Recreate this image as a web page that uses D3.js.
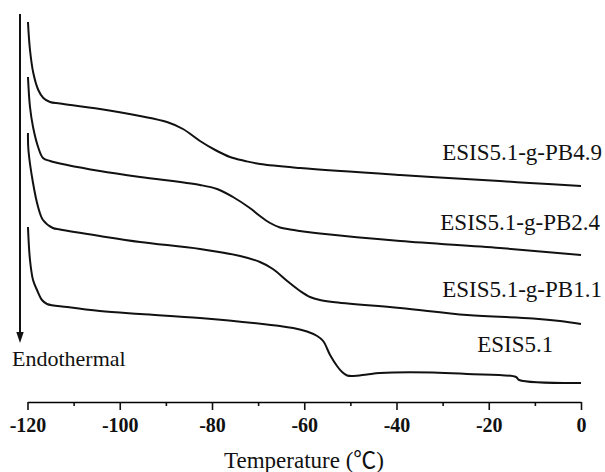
<!DOCTYPE html>
<html>
<head>
<meta charset="utf-8">
<script src="https://cdnjs.cloudflare.com/ajax/libs/d3/7.8.5/d3.min.js"></script>
<style>
  html, body { margin: 0; padding: 0; background: #fff; }
  svg text { font-family: "Liberation Serif", "Times New Roman", "Noto Sans CJK SC", serif; fill: #111; }
</style>
</head>
<body>
<svg id="chart" width="605" height="472"></svg>
<script>
// DSC traces, temperature in degC, heat flow in arbitrary (offset) units
var seriesNames = ['ESIS5.1-g-PB4.9', 'ESIS5.1-g-PB2.4', 'ESIS5.1-g-PB1.1', 'ESIS5.1'];

var pb49T = [-119.9, -119.46, -118.74, -117.66, -116.57, -115.12, -112.95, -104.28, -95.61, -89.76, -86.29, -82.6, -79.3, -76.1, -72.8, -69.6, -60.9, -39.2, -17.6, -11.1, 0];
var pb49V = [38.0, 35.2, 32.9, 31.2, 30.4, 30.0, 29.85, 29.3, 28.6, 28.0, 27.3, 26.1, 25.2, 24.5, 24.1, 23.8, 23.4, 22.7, 22.1, 21.9, 21.6];

var pb24T = [-119.9, -119.46, -118.8, -117.7, -116.64, -115.1, -111.4, -104.3, -95.6, -82.6, -78.9, -75.45, -71.8, -69.6, -67.4, -65.26, -63.09, -60.9, -56.6, -39.2, -17.6, 0];
var pb24V = [32.5, 29.5, 27.5, 25.5, 24.4, 24.1, 23.7, 23.1, 22.5, 21.7, 21.3, 20.5, 19.4, 18.6, 17.9, 17.45, 17.25, 17.1, 16.85, 16.1, 15.4, 14.7];

var pb11T = [-119.9, -119.8, -118.8, -117.7, -116.64, -114.5, -112.95, -104.3, -95.6, -82.6, -73.9, -69.6, -66.8, -63.7, -60.9, -58.75, -56.6, -53.8, -39.2, -24.7, -10.4, -4.55, 0];
var pb11V = [26.9, 25.2, 21.9, 19.5, 18.2, 17.4, 17.25, 16.6, 16.0, 15.3, 14.6, 14.0, 13.3, 12.1, 11.1, 10.5, 10.2, 10.0, 9.4, 8.7, 8.35, 8.1, 7.8];

var esisT = [-119.9, -119.46, -118.8, -117.94, -116.86, -115.77, -111.4, -104.3, -95.6, -82.6, -68.1, -62.4, -59.4, -57.2, -55.9, -54.4, -52.9, -51.8, -50.7, -49.4, -46.4, -43.6, -32.1, -24.7, -14.1, -13.4, 0];
var esisV = [17.5, 14.2, 12.2, 11.2, 10.2, 9.8, 9.5, 9.1, 8.8, 8.4, 7.75, 7.4, 7.05, 6.6, 6.1, 4.7, 3.6, 3.0, 2.65, 2.6, 2.75, 2.9, 2.95, 2.8, 2.5, 2.2, 1.9];

var majorTicks = [-120, -100, -80, -60, -40, -20, 0];
var minorTicks = [-110, -90, -70, -50, -30, -10];

var xTitle = 'Temperature (\u2103)';
var arrowLabel = 'Endothermal';

// where each curve name sits: [temperature, heat flow]
var labelAt = [[-30.1, 24.2], [-30.5, 17.2], [-30.1, 10.5], [-22.5, 5.0]];

var svg = d3.select('#chart');
var x = d3.scaleLinear().domain([-120, 0]).range([27.5, 581]);
var y = d3.scaleLinear().domain([0, 40]).range([402, 2]);

var traces = [
    d3.zip(pb49T, pb49V),
    d3.zip(pb24T, pb24V),
    d3.zip(pb11T, pb11V),
    d3.zip(esisT, esisV)
];

var line = d3.line()
    .x(function(d){ return x(d[0]); })
    .y(function(d){ return y(d[1]); })
    .curve(d3.curveCatmullRom.alpha(0.5));

svg.selectAll('path.trace')
    .data(traces)
    .enter()
    .append('path')
    .attr('class', 'trace')
    .attr('d', line)
    .attr('fill', 'none')
    .attr('stroke', '#111')
    .attr('stroke-width', 2)
    .attr('stroke-linejoin', 'round');

svg.selectAll('text.name')
    .data(seriesNames)
    .enter()
    .append('text')
    .attr('class', 'name')
    .attr('x', function(d, i){ return x(labelAt[i][0]); })
    .attr('y', function(d, i){ return y(labelAt[i][1]); })
    .style('font-size', '23px')
    .text(function(d){ return d; });

// minor ticks first, then the main axis on top
var minorAxis = d3.axisBottom(x).tickValues(minorTicks).tickSize(4).tickSizeOuter(0).tickFormat('');
var gMinor = svg.append('g').attr('transform', 'translate(0,402)').call(minorAxis);
gMinor.select('.domain').remove();

var mainAxis = d3.axisBottom(x).tickValues(majorTicks).tickSize(8).tickSizeOuter(0).tickFormat(d3.format('d'));
var gAxis = svg.append('g').attr('transform', 'translate(0,402)').call(mainAxis);
gAxis.select('.domain').attr('stroke-width', 1.6);
svg.selectAll('.tick line').attr('stroke', '#111').attr('stroke-width', 1.6);
gAxis.selectAll('.tick text')
    .attr('y', 30)
    .attr('dy', 0)
    .style('font-size', '20px')
    .style('font-weight', 'bold')
    .style('font-family', '"Liberation Serif", "Times New Roman", serif')
    .text(function(d){ return d < 0 ? '-' + Math.abs(d) : d; });

svg.append('text')
    .attr('x', 304)
    .attr('y', 468)
    .attr('text-anchor', 'middle')
    .style('font-size', '23px')
    .text(xTitle);

// endothermal direction arrow
svg.append('line')
    .attr('x1', 20).attr('y1', 14)
    .attr('x2', 20).attr('y2', 334)
    .attr('stroke', '#111')
    .attr('stroke-width', 2);
svg.append('path')
    .attr('d', 'M16.3,332 L23.7,332 L20,343 Z')
    .attr('fill', '#111');

svg.append('text')
    .attr('x', 12)
    .attr('y', 366)
    .style('font-size', '22px')
    .text(arrowLabel);
</script>
</body>
</html>
